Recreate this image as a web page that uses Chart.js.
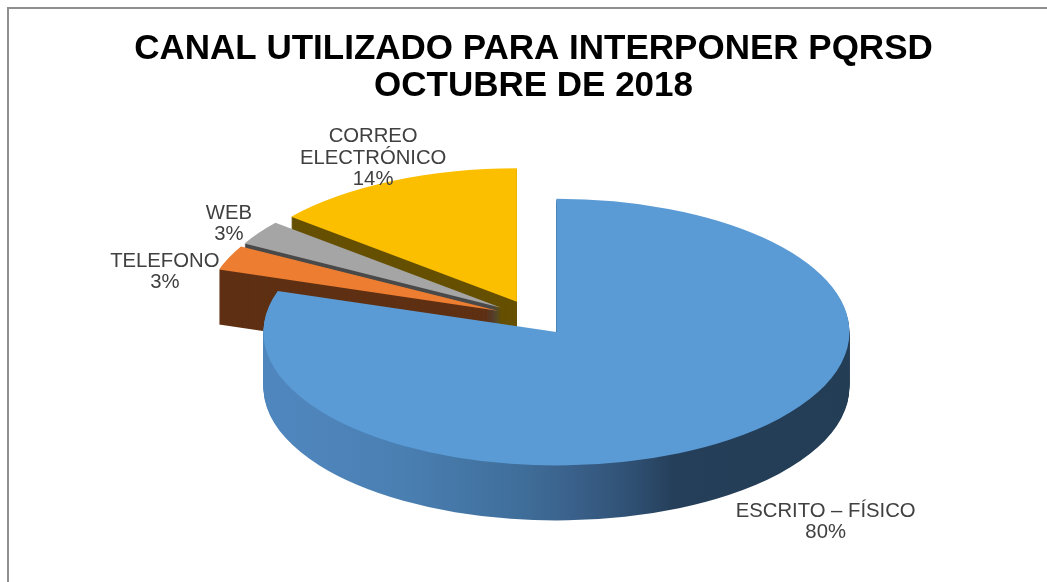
<!DOCTYPE html>
<html><head><meta charset="utf-8">
<style>
html,body{margin:0;padding:0;background:#fff;overflow:hidden}
#wrap{position:relative;width:1047px;height:582px}
#frame{position:absolute;left:7px;top:7px;right:0;bottom:0;border-left:2px solid #8f8f8f;border-top:2px solid #8f8f8f}
canvas{position:absolute;left:0;top:0}
</style>
<script src="https://cdn.jsdelivr.net/npm/chart.js@4"></script>
</head><body>
<div id="wrap"><div id="frame"></div><canvas id="c" width="1047" height="582"></canvas></div>
<script>
const categories = [["ESCRITO – FÍSICO"], ["TELEFONO"], ["WEB"], ["CORREO", "ELECTRÓNICO"]];
const values = [80, 3, 3, 14];
const percentLabels = ["80%", "3%", "3%", "14%"];
const topColors = ["#5b9bd5", "#ed7d31", "#a5a5a5", "#fcbf00"];
const wallColors = ["#2f5070", "#5f3013", "#4a4a4a", "#665000"];
const labelNudgeX = [97, -64, -30, -19];
const labelNudgeY = [82, 14, -9, -23];

const SQUASH = 0.455, DEPTH = 55, EXPLODE = 39, RADIUS = 293;
const drawOrder = [3, 2, 1, 0];

function mid(a){ return (a.startAngle + a.endAngle) / 2; }

const pie3d = {
  id: 'pie3d',
  beforeDatasetDraw(chart) {
    const ctx = chart.ctx, arcs = chart.getDatasetMeta(0).data;
    drawOrder.forEach(i => {
      const a = arcs[i], m = mid(a);
      const ox = Math.cos(m) * EXPLODE, oy = Math.sin(m) * EXPLODE;
      ctx.save();
      ctx.translate(0, a.y);
      ctx.scale(1, SQUASH);
      ctx.translate(ox, oy - a.y);
      let wall = wallColors[i];
      if (i === 0) {
        const g = ctx.createLinearGradient(a.x + ox - RADIUS, 0, a.x + ox + RADIUS, 0);
        g.addColorStop(0, "#4f86bd");
        g.addColorStop(0.2, "#4a7fb2");
        g.addColorStop(0.4, "#3f6e9a");
        g.addColorStop(0.5, "#395f88");
        g.addColorStop(0.6, "#2e4e70");
        g.addColorStop(0.66, "#253f5a");
        g.addColorStop(1, "#233d55");
        wall = g;
      }
      const fake = Object.create(a);
      fake.options = Object.assign({}, a.options, {backgroundColor: wall, borderWidth: 0, offset: 0, spacing: 0});
      for (let d = DEPTH; d >= 1; d -= 1) {
        ctx.save();
        ctx.translate(0, d / SQUASH);
        a.constructor.prototype.draw.call(fake, ctx);
        ctx.restore();
      }
      a.draw(ctx);
      ctx.restore();
    });
    return false;
  },
  afterDatasetsDraw(chart) {
    const ctx = chart.ctx, arcs = chart.getDatasetMeta(0).data;
    ctx.save();
    ctx.font = '20.3px "Liberation Sans"';
    ctx.fillStyle = '#404040';
    ctx.textAlign = 'center';
    ctx.textBaseline = 'middle';
    arcs.forEach((a, i) => {
      const m = mid(a);
      const px = a.x + Math.cos(m) * (EXPLODE + a.outerRadius);
      const py = a.y + Math.sin(m) * (EXPLODE + a.outerRadius) * SQUASH;
      const lines = categories[i].concat(percentLabels[i]);
      const cx = px + labelNudgeX[i], cy = py + labelNudgeY[i];
      lines.forEach((t, k) => ctx.fillText(t, cx, cy + (k - (lines.length - 1) / 2) * 21.5));
    });
    ctx.restore();
  }
};

new Chart(document.getElementById('c'), {
  type: 'pie',
  plugins: [pie3d],
  data: {
    labels: categories.map(c => c.join(' ')),
    datasets: [{ data: values, backgroundColor: topColors, borderWidth: 0, clip: false, radius: RADIUS }]
  },
  options: {
    responsive: false,
    animation: false,
    radius: RADIUS,
    layout: { padding: { left: 20, right: 0, top: 0, bottom: 59 } },
    plugins: {
      legend: { display: false },
      tooltip: { enabled: false },
      title: {
        display: true,
        text: ["CANAL UTILIZADO PARA INTERPONER PQRSD", "OCTUBRE DE 2018"],
        color: '#000',
        font: { family: '"Liberation Sans"', size: 35, weight: 'bold', lineHeight: 1.057 },
        padding: { top: 30.5, bottom: 8 }
      }
    }
  }
});
</script>
</body></html>
